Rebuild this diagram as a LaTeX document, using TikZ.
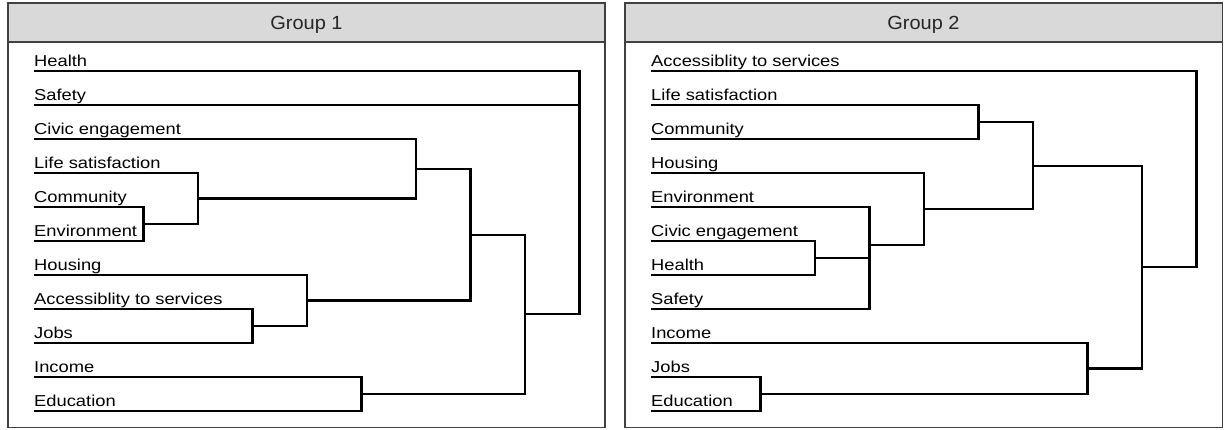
\documentclass[tikz,border=0pt]{standalone}
\usepackage{fontspec}
\setmainfont{Liberation Sans}
\newfontfamily\lblfont[FakeStretch=1.16]{Liberation Sans}
\newfontfamily\hdrfont[FakeStretch=1.05]{Liberation Sans}
\definecolor{hdrgray}{HTML}{D9D9D9}
\definecolor{bordergray}{HTML}{404040}
\definecolor{hdrtext}{HTML}{262626}
\begin{document}
\begin{tikzpicture}[x=1pt,y=-1pt,
  lbl/.style={anchor=base west, inner sep=0pt, font=\lblfont\fontsize{15.8}{18}\selectfont},
  hdr/.style={anchor=base, inner sep=0pt, text=hdrtext, font=\hdrfont\fontsize{19}{22}\selectfont},
  panel/.style={draw=bordergray, line width=1.7pt},
  link/.style={draw=black, line width=2.2pt, line join=miter}]
\useasboundingbox (0,0) rectangle (1225,429);

% ---------- panels ----------
\draw[panel] (8,3.3) rectangle (605,427.5);
\draw[panel, fill=hdrgray] (8,3.3) rectangle (605,42);
\node[hdr] (h1) at (306.5,29.3) {Group 1};
\draw[panel] (625,3.3) rectangle (1222.5,427.5);
\draw[panel, fill=hdrgray] (625,3.3) rectangle (1222.5,42);
\node[hdr] (h2) at (923.5,29.3) {Group 2};

% ---------- Group 1 leaves ----------
\node[lbl] (a1) at (34,66)  {Health};
\node[lbl] (a2) at (34,100) {Safety};
\node[lbl] (a3) at (34,134) {Civic engagement};
\node[lbl] (a4) at (34,168) {Life satisfaction};
\node[lbl] (a5) at (34,202) {Community};
\node[lbl] (a6) at (34,236) {Environment};
\node[lbl] (a7) at (34,270) {Housing};
\node[lbl] (a8) at (34,304) {Accessiblity to services};
\node[lbl] (a9) at (34,338) {Jobs};
\node[lbl] (a10) at (34,372) {Income};
\node[lbl] (a11) at (34,406) {Education};
\coordinate (gH)  at (34,71);
\coordinate (gS)  at (34,105);
\coordinate (gC)  at (34,139);
\coordinate (gL)  at (34,173);
\coordinate (gCo) at (34,207);
\coordinate (gE)  at (34,241);
\coordinate (gHo) at (34,275);
\coordinate (gA)  at (34,309);
\coordinate (gJ)  at (34,343);
\coordinate (gI)  at (34,377);
\coordinate (gEd) at (34,411);
% merges
\coordinate (m1) at (143.5,224);
\coordinate (m2) at (198,198.5);
\coordinate (m3) at (416,168.75);
\coordinate (m4) at (252.5,326);
\coordinate (m5) at (307,300.5);
\coordinate (m6) at (470.5,234.6);
\coordinate (m7) at (361.5,394);
\coordinate (m8) at (525,314.3);
\coordinate (mr) at (579.5,71);
\draw[link] (gCo) -| (m1) |- (gE);
\draw[link] (gL) -| (m2) |- (m1);
\draw[link] (gC) -| (m3) |- (m2);
\draw[link] (gA) -| (m4) |- (gJ);
\draw[link] (gHo) -| (m5) |- (m4);
\draw[link] (m3) -| (m6) |- (m5);
\draw[link] (gI) -| (m7) |- (gEd);
\draw[link] (m6) -| (m8) |- (m7);
\draw[link] (gH) -| (mr) |- (m8);
\draw[link] (gS) -- (gS -| mr);

% ---------- Group 2 leaves ----------
\node[lbl] (b1) at (651,66)  {Accessiblity to services};
\node[lbl] (b2) at (651,100) {Life satisfaction};
\node[lbl] (b3) at (651,134) {Community};
\node[lbl] (b4) at (651,168) {Housing};
\node[lbl] (b5) at (651,202) {Environment};
\node[lbl] (b6) at (651,236) {Civic engagement};
\node[lbl] (b7) at (651,270) {Health};
\node[lbl] (b8) at (651,304) {Safety};
\node[lbl] (b9) at (651,338) {Income};
\node[lbl] (b10) at (651,372) {Jobs};
\node[lbl] (b11) at (651,406) {Education};
\coordinate (kA)  at (651,71);
\coordinate (kL)  at (651,105);
\coordinate (kCo) at (651,139);
\coordinate (kHo) at (651,173);
\coordinate (kE)  at (651,207);
\coordinate (kC)  at (651,241);
\coordinate (kH)  at (651,275);
\coordinate (kS)  at (651,309);
\coordinate (kI)  at (651,343);
\coordinate (kJ)  at (651,377);
\coordinate (kEd) at (651,411);
% merges
\coordinate (n1) at (978.5,122);
\coordinate (n2) at (815,258);
\coordinate (n3) at (869.5,283.5);
\coordinate (n4) at (869.5,245.25);
\coordinate (n5) at (924,209.1);
\coordinate (n6) at (1033,165.6);
\coordinate (n7) at (760.5,394);
\coordinate (n8) at (1087.5,368.5);
\coordinate (n9) at (1142,267);
\coordinate (nr) at (1196.5,71);
\draw[link] (kL) -| (n1) |- (kCo);
\draw[link] (kC) -| (n2) |- (kH);
\draw[link] (n2) -| (n3) |- (kS);
\draw[link] (kE) -| (n4) |- (n3);
\draw[link] (kHo) -| (n5) |- (n4);
\draw[link] (n1) -| (n6) |- (n5);
\draw[link] (kJ) -| (n7) |- (kEd);
\draw[link] (kI) -| (n8) |- (n7);
\draw[link] (n6) -| (n9) |- (n8);
\draw[link] (kA) -| (nr) |- (n9);
\end{tikzpicture}
\end{document}
